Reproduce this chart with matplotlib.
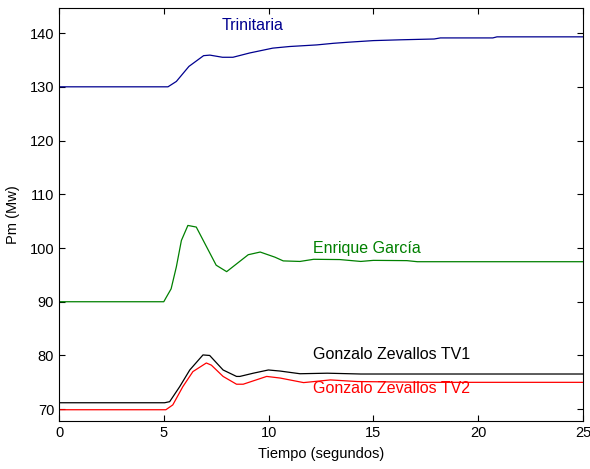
import matplotlib
matplotlib.use("Agg")
import matplotlib.pyplot as plt

plt.rcParams['font.family'] = ['Liberation Sans', 'DejaVu Sans']

t_trin = [0, 5.2, 5.6, 6.2, 6.9, 7.2, 7.8, 8.3, 9.1, 10.2, 11.0, 12.3, 13.1, 13.8, 15.0, 16.3, 17.9, 18.2, 20.7, 20.9, 25]
v_trin = [130, 130, 131.0, 133.8, 135.8, 135.9, 135.5, 135.5, 136.3, 137.2, 137.5, 137.8, 138.1, 138.3, 138.6, 138.75, 138.9, 139.1, 139.1, 139.3, 139.3]

t_eg = [0, 5.0, 5.1, 5.35, 5.6, 5.84, 6.15, 6.55, 7.5, 8.0, 9.03, 9.6, 10.3, 10.7, 11.5, 12.15, 13.4, 14.4, 15.0, 16.6, 17.1, 25]
v_eg = [90, 90, 90.7, 92.4, 96.5, 101.4, 104.2, 103.9, 96.8, 95.6, 98.75, 99.25, 98.3, 97.6, 97.5, 97.9, 97.85, 97.5, 97.7, 97.65, 97.45, 97.45]

t_tv1 = [0, 5.04, 5.28, 5.76, 6.24, 6.87, 7.19, 7.83, 8.47, 8.63, 9.27, 9.99, 10.55, 11.5, 12.8, 14.4, 25]
v_tv1 = [71.2, 71.2, 71.4, 74.2, 77.3, 80.1, 80.0, 77.3, 76.1, 76.1, 76.7, 77.3, 77.1, 76.6, 76.7, 76.55, 76.55]

t_tv2 = [0, 5.1, 5.43, 5.91, 6.39, 7.03, 7.27, 7.83, 8.47, 8.79, 9.91, 10.55, 11.67, 12.95, 14.23, 17.4, 25]
v_tv2 = [69.9, 69.9, 70.8, 74.2, 77.0, 78.6, 78.2, 76.1, 74.65, 74.65, 76.1, 75.8, 74.95, 75.45, 75.15, 75.0, 75.0]

labels = ["Trinitaria", "Enrique García", "Gonzalo Zevallos TV1", "Gonzalo Zevallos TV2"]
colors = ["#00008f", "#008000", "#000000", "#ff0000"]
label_pos = [(7.75, 141.5), (12.1, 100.0), (12.1, 80.2), (12.1, 73.8)]

fig = plt.figure(figsize=(5.9, 4.69), dpi=100)
ax = fig.add_axes([0.1, 0.1023, 0.888, 0.881])

for (t, v), c in zip([(t_trin, v_trin), (t_eg, v_eg), (t_tv1, v_tv1), (t_tv2, v_tv2)], colors):
    ax.plot(t, v, color=c, lw=0.9)

for lab, (x, y), c in zip(labels, label_pos, colors):
    ax.text(x, y, lab, color=c, fontsize=11.5, ha='left', va='center')

ax.set_xlim(0, 25)
ax.set_ylim(67.8, 144.7)
ax.set_xticks([0, 5, 10, 15, 20, 25])
ax.set_yticks([70, 80, 90, 100, 110, 120, 130, 140])
ax.tick_params(direction='in', top=True, right=True, labelsize=10.5, length=4)
ax.set_xlabel("Tiempo (segundos)", fontsize=10.5, labelpad=5)
ax.set_ylabel("Pm (Mw)", fontsize=10.5, labelpad=7)
for s in ax.spines.values():
    s.set_linewidth(0.8)

fig.savefig("out.png", dpi=100)
